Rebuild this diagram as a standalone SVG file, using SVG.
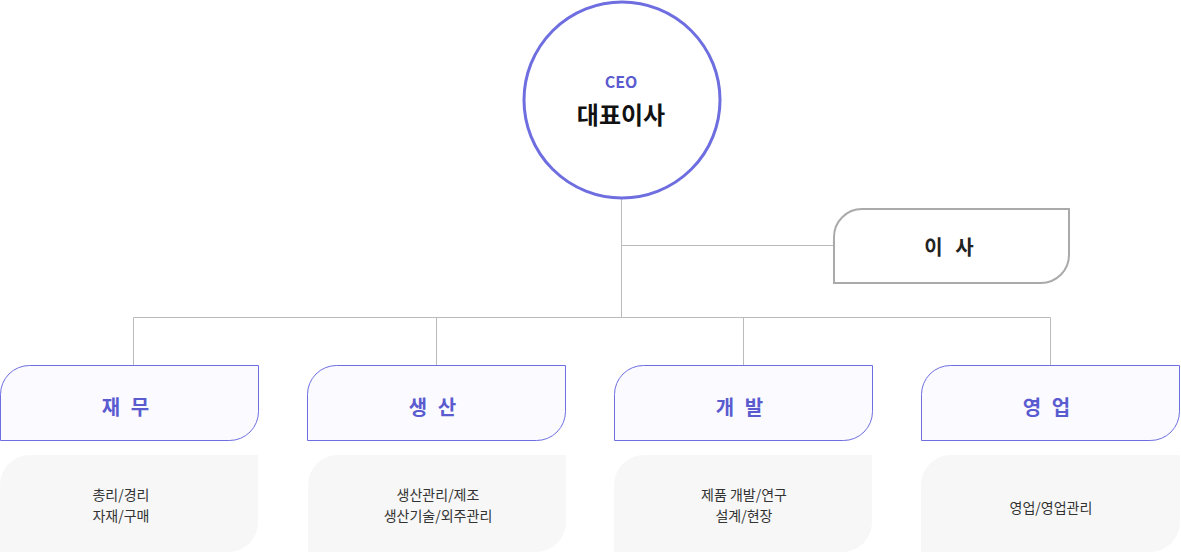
<svg xmlns="http://www.w3.org/2000/svg" width="1181" height="553" viewBox="0 0 1181 553">
<style>
text{font-family:"Noto Sans CJK KR","Noto Sans",sans-serif;text-anchor:middle;dominant-baseline:central}
.con{stroke:#bbbbbb;stroke-width:1;fill:none}
.dept{fill:#fafaff;stroke:#6e6ee0;stroke-width:1}
.dt{font-size:20px;font-weight:700;fill:#5b5bd0;letter-spacing:3px}
.sub{fill:#f7f7f7}
.st{font-size:14px;fill:#333333}
</style>
<g id="connectors">
<path class="con" d="M621.5 199V317.5M621.5 245.5H834M133.5 317.5H1050.5M133.5 317.5V365M436.5 317.5V365M743.5 317.5V365M1050.5 317.5V365"/>
</g>
<g id="ceo">
<circle cx="622" cy="100" r="98" fill="#ffffff" stroke="#6e6ee0" stroke-width="3"/>
<text x="621" y="81" font-size="16" font-weight="700" fill="#5b5bd0">CEO</text>
<text x="621" y="113" font-size="24" font-weight="700" fill="#111111">대표이사</text>
</g>
<g id="director">
<path d="M862 209H1069V255A28 28 0 0 1 1041 283H834V237A28 28 0 0 1 862 209Z" fill="#ffffff" stroke="#aaaaaa" stroke-width="2"/>
<text x="951" y="246" font-size="20" font-weight="700" fill="#222222" letter-spacing="4">이 사</text>
</g>
<g id="finance">
<path class="dept" d="M29.5 365.5H258.5V411.5A29 29 0 0 1 229.5 440.5H0.5V394.5A29 29 0 0 1 29.5 365.5Z"/>
<text class="dt" x="127" y="406">재 무</text>
<path class="sub" d="M30 455H258V522A30 30 0 0 1 228 552H0V485A30 30 0 0 1 30 455Z"/>
<text class="st" x="121" y="494">총리/경리</text>
<text class="st" x="121" y="515">자재/구매</text>
</g>
<g id="production">
<path class="dept" d="M336.5 365.5H565.5V411.5A29 29 0 0 1 536.5 440.5H307.5V394.5A29 29 0 0 1 336.5 365.5Z"/>
<text class="dt" x="434" y="406">생 산</text>
<path class="sub" d="M338 455H566V522A30 30 0 0 1 536 552H308V485A30 30 0 0 1 338 455Z"/>
<text class="st" x="438" y="494">생산관리/제조</text>
<text class="st" x="438" y="515">생산기술/외주관리</text>
</g>
<g id="development">
<path class="dept" d="M643.5 365.5H872.5V411.5A29 29 0 0 1 843.5 440.5H614.5V394.5A29 29 0 0 1 643.5 365.5Z"/>
<text class="dt" x="741" y="406">개 발</text>
<path class="sub" d="M644 455H872V522A30 30 0 0 1 842 552H614V485A30 30 0 0 1 644 455Z"/>
<text class="st" x="744" y="494">제품 개발/연구</text>
<text class="st" x="744" y="515">설계/현장</text>
</g>
<g id="sales">
<path class="dept" d="M950.5 365.5H1179.5V411.5A29 29 0 0 1 1150.5 440.5H921.5V394.5A29 29 0 0 1 950.5 365.5Z"/>
<text class="dt" x="1048" y="406">영 업</text>
<path class="sub" d="M951 455H1180V522A30 30 0 0 1 1150 552H921V485A30 30 0 0 1 951 455Z"/>
<text class="st" x="1051" y="507">영업/영업관리</text>
</g>
</svg>
